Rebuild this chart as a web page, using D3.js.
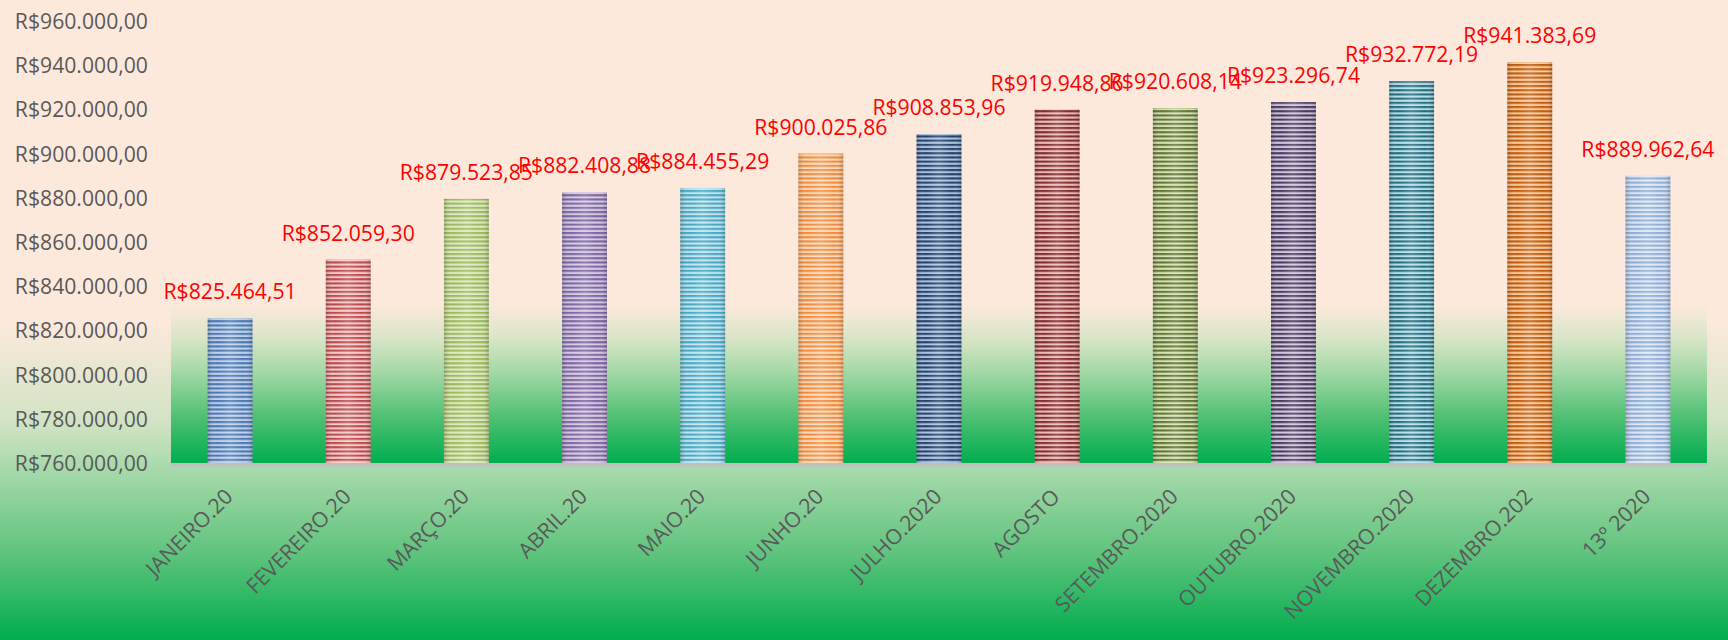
<!DOCTYPE html>
<html>
<head>
<meta charset="utf-8">
<script src="https://cdn.jsdelivr.net/npm/d3@7"></script>
<style>
  html, body { margin: 0; padding: 0; background: #fde9dc; }
  svg { display: block; }
  text { font-family: "Open Sans", sans-serif; }
</style>
</head>
<body>
<svg id="chart" width="1728" height="640"></svg>
<script>
const categories = ["JANEIRO.20","FEVEREIRO.20","MARÇO.20","ABRIL.20","MAIO.20","JUNHO.20","JULHO.2020","AGOSTO","SETEMBRO.2020","OUTUBRO.2020","NOVEMBRO.2020","DEZEMBRO.202","13º 2020"];
const values = [825464.51, 852059.30, 879523.85, 882408.88, 884455.29, 900025.86, 908853.96, 919948.86, 920608.14, 923296.74, 932772.19, 941383.69, 889962.64];
const yTicks = [760000, 780000, 800000, 820000, 840000, 860000, 880000, 900000, 920000, 940000, 960000];
// [dark stripe, light stripe]
const barColors = [
  ["#4a76b0", "#bcd0ea"],
  ["#b9484a", "#f4c8c8"],
  ["#9cb85a", "#dde9c2"],
  ["#7c63a0", "#d3c8e2"],
  ["#45a6c2", "#bfe4ee"],
  ["#f08a3c", "#fcd9b8"],
  ["#243f66", "#a9c1e0"],
  ["#7e2a29", "#eab9b8"],
  ["#5e7230", "#d4e0b4"],
  ["#463659", "#cfc4dd"],
  ["#26697a", "#b2dfe9"],
  ["#c05a0c", "#f8c898"],
  ["#8eabd4", "#dce7f4"]
];

const W = 1728, H = 640;
const plot = {left: 171, right: 1707, top: 0, bottom: 463};

const locale = d3.formatLocale({decimal: ",", thousands: ".", grouping: [3], currency: ["R$", ""]});
const fmt = locale.format("$,.2f");

const svg = d3.select("#chart");
const defs = svg.append("defs");

// backgrounds
const outerG = defs.append("linearGradient").attr("id", "outerBg")
  .attr("gradientUnits", "userSpaceOnUse").attr("x1", 0).attr("y1", 0).attr("x2", 0).attr("y2", H);
[[0, "#fde9dc"], [0.5, "#fde9dc"], [0.66, "#d2e3c4"], [0.74, "#a3d8a8"], [0.86, "#62c47f"], [1, "#00ad4f"]]
  .forEach(([o, c]) => outerG.append("stop").attr("offset", o).attr("stop-color", c));

const plotG = defs.append("linearGradient").attr("id", "plotBg")
  .attr("gradientUnits", "userSpaceOnUse").attr("x1", 0).attr("y1", plot.top).attr("x2", 0).attr("y2", plot.bottom);
[[0, "#fde9dc"], [0.655, "#fde9dc"], [0.73, "#d9e5c8"], [0.8, "#a6d9a8"], [0.9, "#50c073"], [1, "#00ad4f"]]
  .forEach(([o, c]) => plotG.append("stop").attr("offset", o).attr("stop-color", c));

svg.append("rect").attr("width", W).attr("height", H).attr("fill", "url(#outerBg)");
svg.append("rect").attr("x", plot.left).attr("y", plot.top)
  .attr("width", plot.right - plot.left).attr("height", plot.bottom - plot.top + 2)
  .attr("fill", "url(#plotBg)");

// scales
const x = d3.scaleBand().domain(categories).range([plot.left, plot.right]).paddingInner(0.62).paddingOuter(0.31);
const y = d3.scaleLinear().domain([760000, 960000]).range([plot.bottom, 21]);

// bar patterns
barColors.forEach(([dark, light], i) => {
  const p = defs.append("pattern").attr("id", "pat" + i)
    .attr("patternUnits", "userSpaceOnUse").attr("width", 8).attr("height", 4.2)
    .attr("y", plot.bottom);
  p.append("rect").attr("width", 8).attr("height", 4.2).attr("fill", light);
  p.append("rect").attr("y", 0).attr("width", 8).attr("height", 2.1).attr("fill", dark);
});
const shade = defs.append("linearGradient").attr("id", "shade").attr("x1", 0).attr("x2", 1).attr("y1", 0).attr("y2", 0);
[[0, "#000", 0.18], [0.2, "#fff", 0.0], [0.5, "#fff", 0.18], [0.8, "#fff", 0.0], [1, "#000", 0.18]]
  .forEach(([o, c, op]) => shade.append("stop").attr("offset", o).attr("stop-color", c).attr("stop-opacity", op));

const bars = svg.append("g");
bars.selectAll("rect.bar").data(values).join("rect").attr("class", "bar")
  .attr("x", (d, i) => x(categories[i])).attr("width", x.bandwidth())
  .attr("y", d => y(d)).attr("height", d => plot.bottom - y(d))
  .attr("fill", (d, i) => `url(#pat${i})`);
bars.selectAll("rect.shade").data(values).join("rect").attr("class", "shade")
  .attr("x", (d, i) => x(categories[i])).attr("width", x.bandwidth())
  .attr("y", d => y(d)).attr("height", d => plot.bottom - y(d))
  .attr("fill", "url(#shade)");

// x axis line (grey)
svg.append("line").attr("x1", plot.left).attr("x2", plot.right)
  .attr("y1", plot.bottom + 1.8).attr("y2", plot.bottom + 1.8)
  .attr("stroke", "#bfbfbf").attr("stroke-width", 3.6);

// y axis
const yAxis = d3.axisLeft(y).tickValues(yTicks).tickFormat(fmt).tickSize(0).tickPadding(0);
const yg = svg.append("g").attr("transform", `translate(148,0)`).call(yAxis);
yg.select(".domain").remove();
yg.selectAll("text").attr("fill", "#595959").style("font-size", "21.2px")
  .style("font-family", "'Open Sans', sans-serif").attr("dy", "0.35em");

// x axis labels
const xAxis = d3.axisBottom(x).tickSize(0).tickPadding(0);
const xg = svg.append("g").attr("transform", `translate(0,${plot.bottom})`).call(xAxis);
xg.select(".domain").remove();
xg.selectAll("text")
  .attr("fill", "#595959").style("font-size", "21.2px").style("font-family", "'Open Sans', sans-serif")
  .attr("text-anchor", "end").attr("dy", null).attr("y", null)
  .attr("transform", "translate(4,35) rotate(-45)");

// data labels
svg.append("g").selectAll("text").data(values).join("text")
  .attr("x", (d, i) => x(categories[i]) + x.bandwidth() / 2)
  .attr("y", d => y(d) - 19)
  .attr("text-anchor", "middle")
  .attr("fill", "#ff0000").style("font-size", "21.2px")
  .text(d => fmt(d));
</script>
</body>
</html>
